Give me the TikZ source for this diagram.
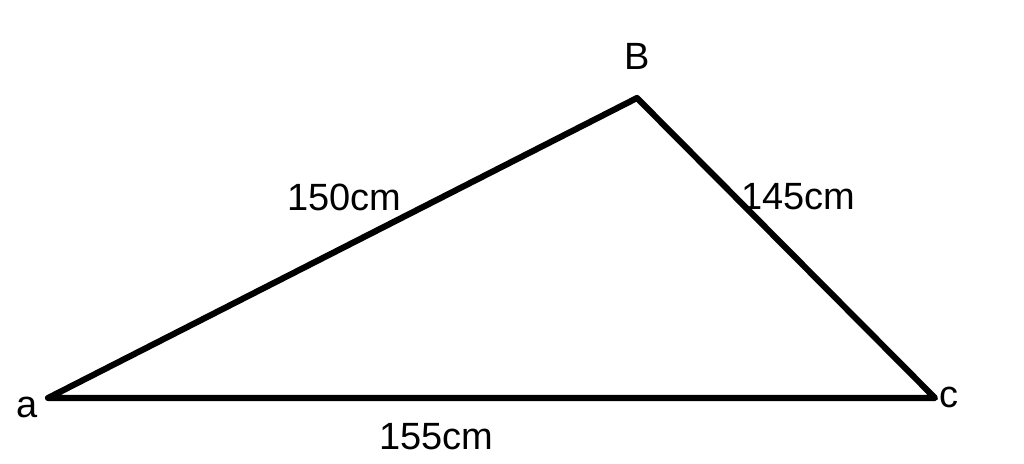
\documentclass[tikz,border=0pt]{standalone}
\usepackage{fontspec}
\setmainfont{Liberation Sans}
\begin{document}
\begin{tikzpicture}[x=0.01cm,y=-0.01cm,
  side/.style={line width=1.75pt,line cap=round,line join=round},
  lbl/.style={font=\fontsize{10.8pt}{12pt}\selectfont,inner sep=0pt}]
\useasboundingbox[fill=white] (0,0) rectangle (1024,464);
\coordinate (a) at (48,398);
\coordinate (B) at (637,98);
\coordinate (c) at (935,398);
\draw[side] (a) -- (B) -- (c) -- cycle;
\node[lbl] (lB) at (637,56) {B};
\node[lbl] (la) at (27,407) {a};
\node[lbl] (lc) at (949,397) {c};
\node[lbl] (l150) at (344,197) {150cm};
\node[lbl] (l145) at (798,197) {145cm};
\node[lbl] (l155) at (436,437) {155cm};
\end{tikzpicture}
\end{document}
